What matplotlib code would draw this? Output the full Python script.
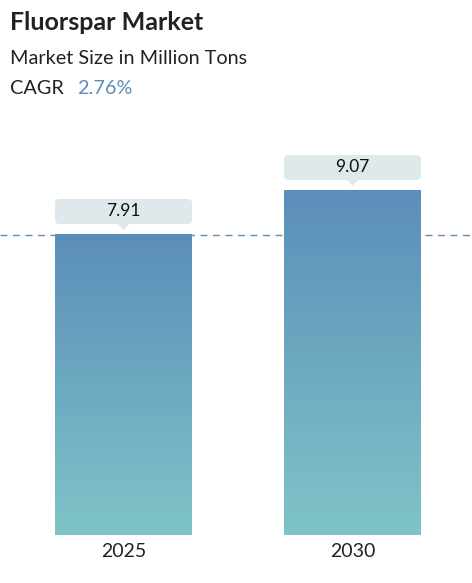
import matplotlib
matplotlib.use("Agg")
import matplotlib.pyplot as plt
import numpy as np
from matplotlib.patches import FancyBboxPatch, Polygon
from matplotlib.colors import LinearSegmentedColormap

years = ["2025", "2030"]
values = [7.91, 9.07]
labels = ["7.91", "9.07"]

W, H = 472, 583
fig = plt.figure(figsize=(W/100, H/100), dpi=100)
ax = fig.add_axes([0, 1-535/H, 1, (535-100)/H])
ppu = 37.93
ymax = (535-100)/ppu
ax.set_ylim(0, ymax)
ax.set_xlim(-123.5/229, 1 + (W-352.5)/229)
for s in ax.spines.values():
    s.set_visible(False)
ax.set_yticks([])
ax.set_xticks(range(len(years)))
ax.set_xticklabels(years, fontsize=14, color="#222222", family="Lato")
ax.tick_params(axis="x", length=0, pad=6)

bw = 137/229
cmap = LinearSegmentedColormap.from_list("g", ["#7fc4c8", "#5b8eb9"])
grad = np.linspace(0, 1, 256).reshape(-1, 1)
for i, v in enumerate(values):
    ax.imshow(grad, extent=(i-bw/2, i+bw/2, 0, v), origin="lower",
              cmap=cmap, aspect="auto", zorder=2, vmin=0, vmax=1)
    gap = 11/ppu
    bh = 25/ppu
    box = FancyBboxPatch((i-bw/2, v+gap), bw, bh,
                         boxstyle="round,pad=0,rounding_size=0.02",
                         mutation_aspect=229/ppu, fc="#dfe8eb", ec="none", zorder=3)
    ax.add_patch(box)
    tw = 6/229
    ax.add_patch(Polygon([(i-tw, v+gap+0.01), (i+tw, v+gap+0.01), (i, v+gap-6/ppu)],
                         closed=True, fc="#dfe8eb", ec="none", zorder=3))
    ax.text(i, v+gap+bh/2, labels[i], ha="center", va="center", fontsize=12.5,
            color="#111111", family="Lato", zorder=4)

ax.axhline(values[0], color="#5b8eb9", lw=1, ls=(0, (5, 4)), zorder=1)

fig.text(10/W, 1-22/H, "Fluorspar Market", fontsize=18, fontweight="bold",
         color="#222222", family="Lato", va="center")
fig.text(10/W, 1-58/H, "Market Size in Million Tons", fontsize=14.3,
         color="#222222", family="Lato", va="center")
fig.text(10/W, 1-89/H, "CAGR", fontsize=14.3, color="#222222", family="Lato", va="center")
fig.text(77/W, 1-89/H, "2.76%", fontsize=14.3, color="#5b8eb9", family="Lato", va="center")

fig.savefig("out.png", dpi=100)
